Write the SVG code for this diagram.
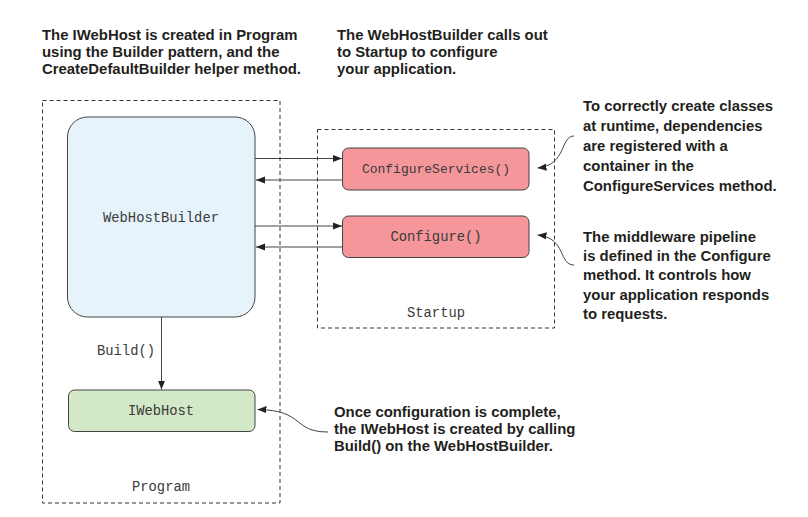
<svg xmlns="http://www.w3.org/2000/svg" width="808" height="517" viewBox="0 0 808 517">
<style>
.note{font-family:"Liberation Sans",Arial,sans-serif;font-weight:bold;font-size:14.9px;fill:#231f20}
.mono{font-family:"Liberation Mono","Courier New",monospace;font-size:13.8px;fill:#3a3a3a}
.dash{fill:none;stroke:#333;stroke-width:1;stroke-dasharray:4 3}
.box{stroke:#444;stroke-width:1}
.con{fill:none;stroke:#444;stroke-width:1}
</style>
<defs>
<marker id="ah" viewBox="0 0 10 10" refX="10" refY="5" markerWidth="9" markerHeight="9" markerUnits="userSpaceOnUse" orient="auto">
<path d="M0,1 L10,5 L0,9 Z" fill="#222"/>
</marker>
</defs>
<rect width="808" height="517" fill="#fff"/>

<g id="program">
<rect class="dash" x="42.5" y="100.5" width="237.5" height="402.5"/>
<text class="mono" x="161" y="491" text-anchor="middle">Program</text>
</g>
<g id="startup">
<rect class="dash" x="317.5" y="129.5" width="237" height="198.5"/>
<text class="mono" x="436" y="317" text-anchor="middle">Startup</text>
</g>
<g id="webhostbuilder">
<rect class="box" x="67.5" y="117" width="187.5" height="200" rx="20" fill="#e6f3fb"/>
<text class="mono" x="161" y="221.5" text-anchor="middle">WebHostBuilder</text>
</g>
<g id="configureservices">
<rect class="box" x="342.5" y="148" width="186.5" height="42" rx="6" fill="#f4969a"/>
<text class="mono" x="436" y="172.5" text-anchor="middle" style="font-size:13px">ConfigureServices()</text>
</g>
<g id="configure">
<rect class="box" x="342.5" y="216" width="186.5" height="41.5" rx="6" fill="#f4969a"/>
<text class="mono" x="436" y="240.5" text-anchor="middle">Configure()</text>
</g>
<g id="iwebhost">
<rect class="box" x="68.5" y="390" width="186.5" height="41.5" rx="6" fill="#d3e8c6"/>
<text class="mono" x="161" y="415" text-anchor="middle">IWebHost</text>
</g>

<g id="connectors">
<line class="con" x1="255" y1="158.5" x2="342" y2="158.5" marker-end="url(#ah)"/>
<line class="con" x1="342" y1="180" x2="256" y2="180" marker-end="url(#ah)"/>
<line class="con" x1="255" y1="226" x2="342" y2="226" marker-end="url(#ah)"/>
<line class="con" x1="342" y1="247" x2="256" y2="247" marker-end="url(#ah)"/>
<line class="con" x1="161.5" y1="317" x2="161.5" y2="389.5" marker-end="url(#ah)"/>
<text class="mono" x="155" y="355" text-anchor="end">Build()</text>
<path class="con" d="M574,136 C560,136 567,165 537.5,168" marker-end="url(#ah)"/>
<path class="con" d="M574,265 C558,265 567,238 537.5,235" marker-end="url(#ah)"/>
<path class="con" d="M328,432 C292,432 305,410 257.5,409.5" marker-end="url(#ah)"/>
</g>

<g id="notes">
<text class="note" x="42" y="40">The IWebHost is created in Program</text>
<text class="note" x="42" y="57">using the Builder pattern, and the</text>
<text class="note" x="42" y="74">CreateDefaultBuilder helper method.</text>
<text class="note" x="337" y="40">The WebHostBuilder calls out</text>
<text class="note" x="337" y="57">to Startup to configure</text>
<text class="note" x="337" y="74">your application.</text>
<text class="note" x="583" y="111">To correctly create classes</text>
<text class="note" x="583" y="131">at runtime, dependencies</text>
<text class="note" x="583" y="151">are registered with a</text>
<text class="note" x="583" y="171">container in the</text>
<text class="note" x="583" y="190.5">ConfigureServices method.</text>
<text class="note" x="583" y="241.5">The middleware pipeline</text>
<text class="note" x="583" y="261">is defined in the Configure</text>
<text class="note" x="583" y="280.3">method. It controls how</text>
<text class="note" x="583" y="299.6">your application responds</text>
<text class="note" x="583" y="318.9">to requests.</text>
<text class="note" x="334" y="417">Once configuration is complete,</text>
<text class="note" x="334" y="434">the IWebHost is created by calling</text>
<text class="note" x="334" y="451">Build() on the WebHostBuilder.</text>
</g>
</svg>
